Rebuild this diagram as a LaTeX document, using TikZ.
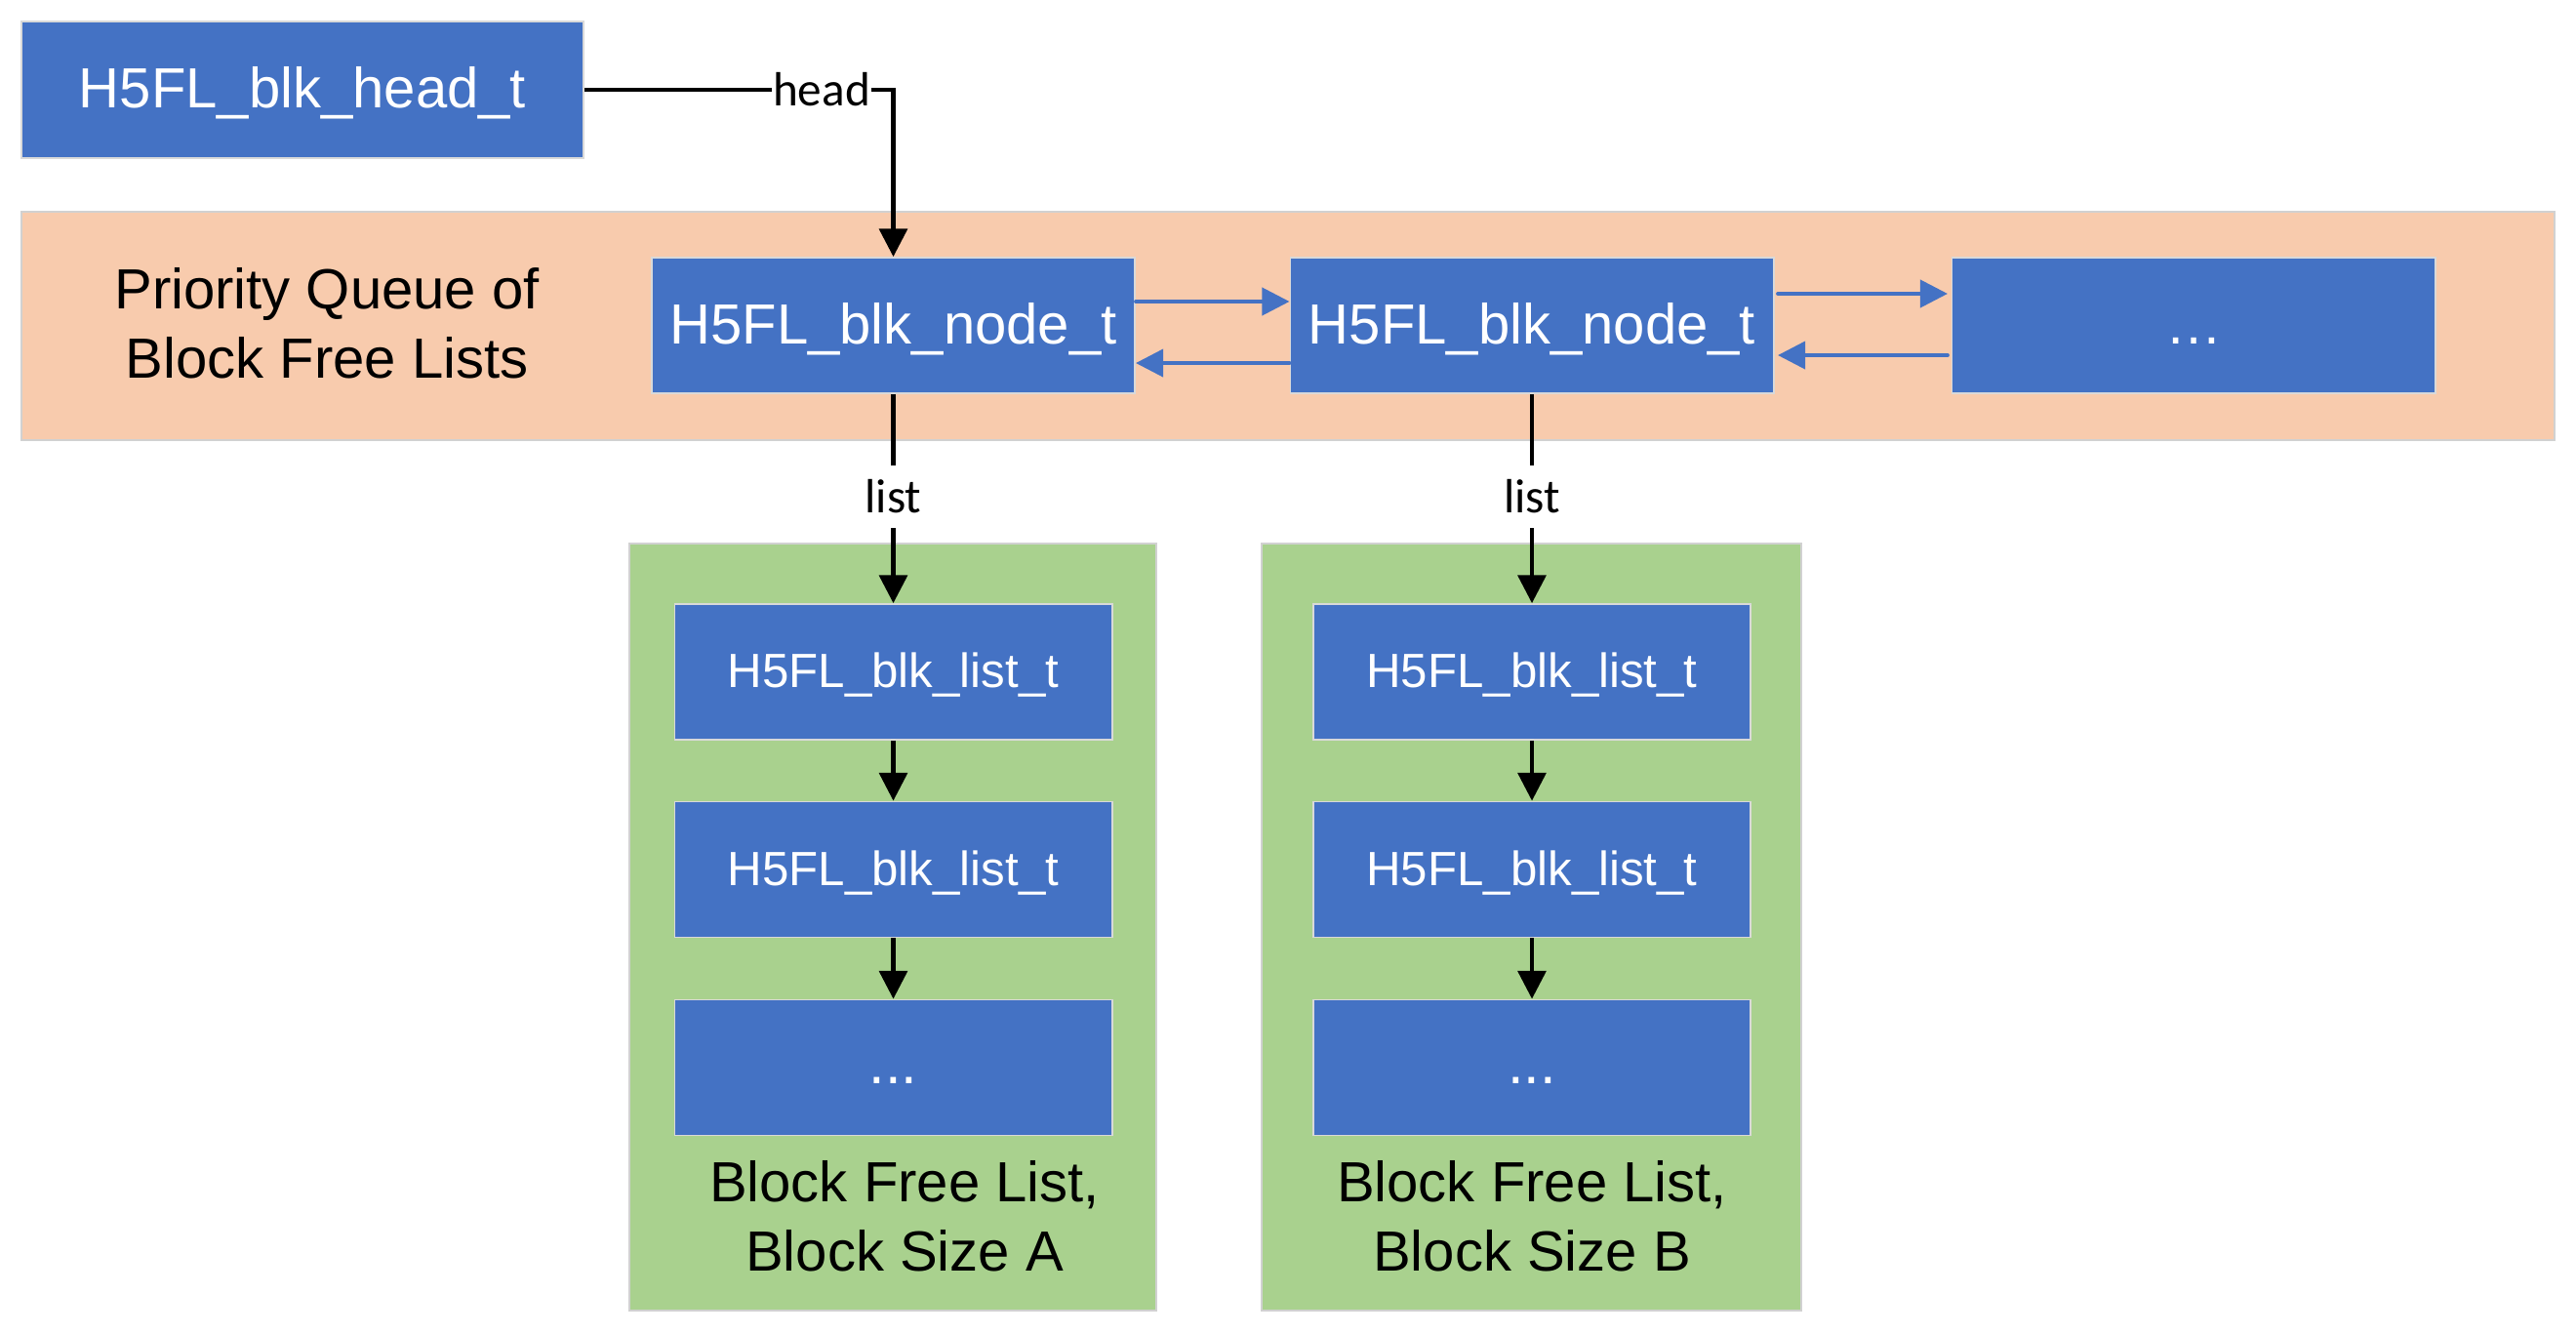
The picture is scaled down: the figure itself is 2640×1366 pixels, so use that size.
\documentclass[tikz,border=0pt]{standalone}
\usepackage{fontspec}
\setmainfont{Liberation Sans}
\newfontfamily\labelfont{Carlito}
\usetikzlibrary{arrows.meta}
\definecolor{blkblue}{HTML}{4472C4}
\definecolor{queuefill}{HTML}{F8CBAD}
\definecolor{listfill}{HTML}{A9D18E}

\begin{document}
\begin{tikzpicture}[x=0.01cm, y=-0.01cm,
	blk/.style={fill=blkblue, draw=black!15, line width=0.5pt, text=white, inner sep=0pt},
	bigtext/.style={font=\fontsize{16.5}{20.2}\selectfont},
	smalltext/.style={font=\fontsize{14}{17}\selectfont},
	qnode/.style={blk, bigtext, text height=13.2pt, text depth=2.6pt, minimum width=4.95cm, minimum height=1.39cm},
	lnode/.style={blk, smalltext, text height=11.3pt, text depth=2.2pt, minimum width=4.48cm, minimum height=1.39cm},
	group/.style={draw=black!18, line width=0.5pt},
	ptr/.style={-{Triangle[width=8.2pt, length=8.2pt]}, line width=1.15pt},
	link/.style={blkblue, line width=1.1pt, line cap=round, -{Triangle[width=8pt, length=8pt]}},
	lbl/.style={font=\labelfont\fontsize{14}{17}\selectfont, inner sep=0pt},
	]
	\useasboundingbox (0,0) rectangle (2640,1366);

	% priority queue
	\draw[group, fill=queuefill] (22,217) rectangle (2618,451);
	\node[bigtext, align=center] (pq) at (335,331) {Priority Queue of\\Block Free Lists};

	\node[blk, bigtext, text height=13.2pt, text depth=2.6pt, minimum width=5.76cm, minimum height=1.40cm] (head) at (310,92) {H5FL\_blk\_head\_t};
	\node[qnode] (nodeA) at (915.5,333.5) {H5FL\_blk\_node\_t};
	\node[qnode] (nodeB) at (1570,333.5) {H5FL\_blk\_node\_t};
	\node[qnode] (nodeC) at (2248,333.5) {…};

	% head pointer
	\node[lbl] (headlbl) at (842,92) {head};
	\draw[line width=1.15pt] (head.east) -- (headlbl.west);
	\draw[ptr] (headlbl.east) -| (nodeA.north);

	% next / prev links
	\draw[link] ([yshift=0.245cm]nodeA.east) -- ([yshift=0.245cm]nodeB.west);
	\draw[link] ([yshift=-0.385cm]nodeB.west) -- ([yshift=-0.385cm]nodeA.east);
	\draw[link, shorten <=1pt, shorten >=1pt] ([yshift=0.325cm]nodeB.east) -- ([yshift=0.325cm]nodeC.west);
	\draw[link, shorten <=1pt, shorten >=1pt] ([yshift=-0.305cm]nodeC.west) -- ([yshift=-0.305cm]nodeB.east);

	% block free lists
	\foreach \col/\gl/\gr/\x/\lx in {A/645/1185/915.5/927, B/1293/1846/1570/1570}{
		\draw[group, fill=listfill] (\gl,557) rectangle (\gr,1343);
		\node[lnode] (list\col1) at (\x,688.5) {H5FL\_blk\_list\_t};
		\node[lnode] (list\col2) at (\x,891) {H5FL\_blk\_list\_t};
		\node[lnode, font=\fontsize{17}{20}\selectfont] (list\col3) at (\x,1094) {...};
		\node[bigtext, align=center] (size\col) at (\lx,1246) {Block Free List,\\Block Size \col};
		\node[lbl, inner sep=4pt] (lbl\col) at (\x,509) {list};
		\draw[line width=1.15pt] (node\col.south) -- (lbl\col.north);
		\draw[ptr] (lbl\col.south) -- (list\col1.north);
		\draw[ptr] (list\col1) -- (list\col2);
		\draw[ptr] (list\col2) -- (list\col3);
	}
\end{tikzpicture}
\end{document}
